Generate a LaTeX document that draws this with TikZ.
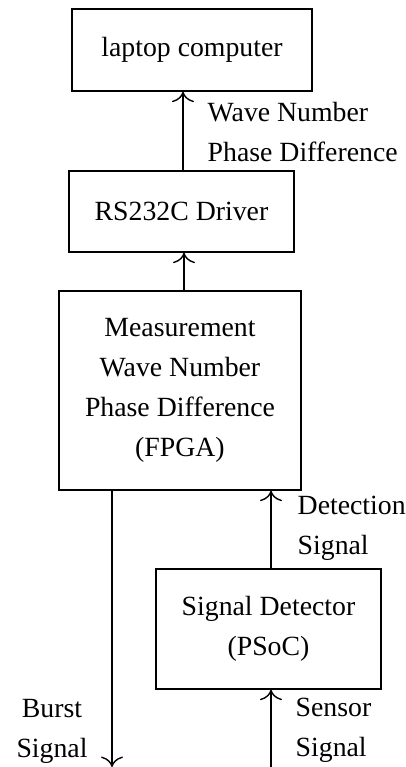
\documentclass[tikz,border=0pt]{standalone}
\usepackage{fontspec}
\setmainfont{Liberation Serif}
\usepackage{tikz}
\usetikzlibrary{arrows.meta}

\begin{document}
\begin{tikzpicture}[x=0.36pt,y=-0.36pt,line width=0.5pt,font=\fontsize{10}{14.4}\selectfont,>={To[scale=1.4]}]
\tikzstyle{blk}=[draw,align=center,inner sep=0pt];
\tikzstyle{lbl}=[align=left,anchor=west,inner sep=0pt];
\tikzstyle{alloc}=[->];
\useasboundingbox (0,0) rectangle (406,767);
\node [blk,minimum width=240*0.36pt,minimum height=82*0.36pt] (pc) at (192,50) {laptop computer};
\node [blk,minimum width=225*0.36pt,minimum height=81*0.36pt] (rs) at (181.5,211.5) {RS232C Driver};
\node [blk,minimum width=242*0.36pt,minimum height=199*0.36pt] (fpga) at (180,390.5) {Measurement\\Wave Number\\Phase Difference\\(FPGA)};
\node [blk,minimum width=225*0.36pt,minimum height=120*0.36pt] (det) at (268.5,629) {Signal Detector\\(PSoC)};

\coordinate (burst) at (112,767);
\coordinate (sensor) at (271,767);

\node [lbl] (lwave) at (207,132) {Wave Number\\Phase Difference};
\node [lbl] (ldet) at (297,528) {Detection\\Signal};
\node [lbl] (lsen) at (295,730) {Sensor\\Signal};
\node [align=center,inner sep=0pt] (lburst) at (52,731) {Burst\\Signal};

\draw [alloc] (rs.north -| 183,0) -- (pc.south -| 183,0);
\draw [alloc] (fpga.north -| 184,0) -- (rs.south -| 184,0);
\draw [alloc] (burst |- fpga.south) -- (burst);
\draw [alloc] (det.north -| sensor) -- (fpga.south -| sensor);
\draw [alloc] (sensor) -- (det.south -| sensor);
\end{tikzpicture}
\end{document}
